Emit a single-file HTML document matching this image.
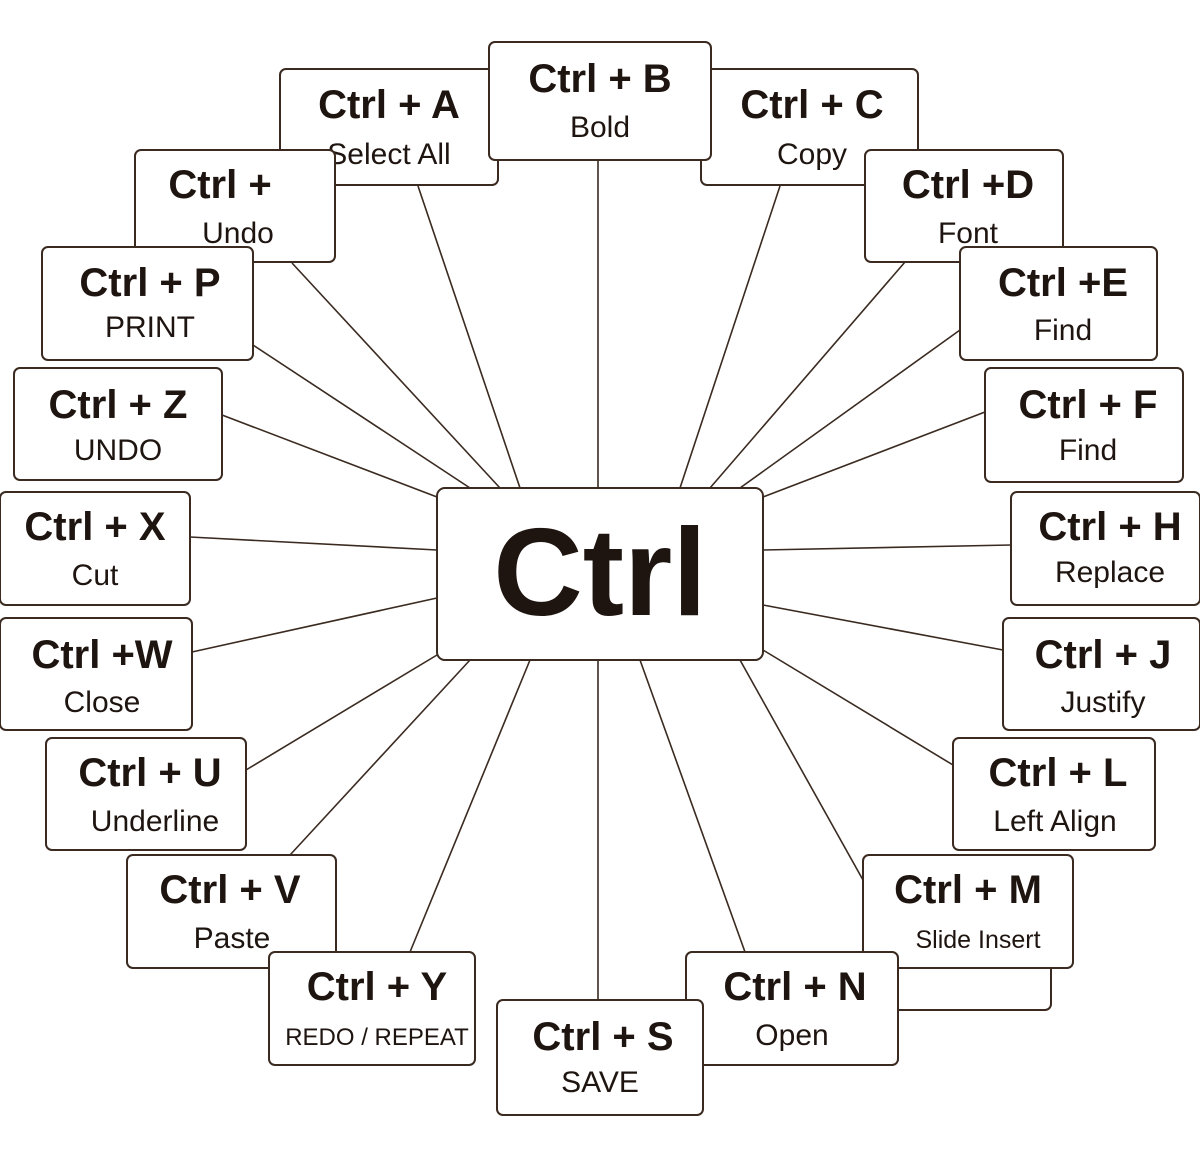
<!DOCTYPE html>
<html><head><meta charset="utf-8"><style>
html,body{margin:0;padding:0;background:#fff;}
svg{display:block}
text{font-family:"Liberation Sans",sans-serif;fill:#1e1410;text-anchor:middle}
.t{font-weight:bold;font-size:40px}
.s{font-size:30px}
rect{fill:#fff;stroke:#3a2a20;stroke-width:2}
line{stroke:#3a2a20;stroke-width:1.6}
</style></head><body>
<svg width="1200" height="1162" viewBox="0 0 1200 1162">
<g>
<line x1="598" y1="160" x2="598" y2="488"/>
<line x1="418" y1="186" x2="520" y2="488"/>
<line x1="780" y1="186" x2="680" y2="488"/>
<line x1="292" y1="263" x2="500" y2="488"/>
<line x1="905" y1="262" x2="710" y2="488"/>
<line x1="253" y1="345" x2="470" y2="488"/>
<line x1="960" y1="330" x2="740" y2="488"/>
<line x1="222" y1="415" x2="437" y2="497"/>
<line x1="985" y1="412" x2="763" y2="497"/>
<line x1="190" y1="537" x2="437" y2="550"/>
<line x1="1011" y1="545" x2="763" y2="550"/>
<line x1="192" y1="652" x2="437" y2="598"/>
<line x1="1003" y1="650" x2="763" y2="605"/>
<line x1="246" y1="770" x2="437" y2="655"/>
<line x1="953" y1="765" x2="763" y2="650"/>
<line x1="290" y1="855" x2="470" y2="660"/>
<line x1="863" y1="880" x2="740" y2="660"/>
<line x1="410" y1="952" x2="530" y2="660"/>
<line x1="745" y1="952" x2="640" y2="660"/>
<line x1="598" y1="1000" x2="598" y2="660"/>
</g>
<rect x="437" y="488" width="326" height="172" rx="8"/>
<text x="600" y="615" style="font-weight:bold;font-size:124px">Ctrl</text>

<rect x="280" y="69" width="218" height="116" rx="6"/>
<text class="t" x="389" y="118">Ctrl + A</text><text class="s" x="389" y="164">Select All</text>
<rect x="701" y="69" width="217" height="116" rx="6"/>
<text class="t" x="812" y="118">Ctrl + C</text><text class="s" x="812" y="164">Copy</text>
<rect x="489" y="42" width="222" height="118" rx="6"/>
<text class="t" x="600" y="92">Ctrl + B</text><text class="s" x="600" y="137">Bold</text>

<rect x="135" y="150" width="200" height="112" rx="6"/>
<text class="t" x="220" y="198">Ctrl +</text><text class="s" x="238" y="243">Undo</text>
<rect x="865" y="150" width="198" height="112" rx="6"/>
<text class="t" x="968" y="198">Ctrl +D</text><text class="s" x="968" y="243">Font</text>

<rect x="42" y="247" width="211" height="113" rx="6"/>
<text class="t" x="150" y="296">Ctrl + P</text><text class="s" x="150" y="337">PRINT</text>
<rect x="960" y="247" width="197" height="113" rx="6"/>
<text class="t" x="1063" y="296">Ctrl +E</text><text class="s" x="1063" y="340">Find</text>

<rect x="14" y="368" width="208" height="112" rx="6"/>
<text class="t" x="118" y="418">Ctrl + Z</text><text class="s" x="118" y="460">UNDO</text>
<rect x="985" y="368" width="198" height="114" rx="6"/>
<text class="t" x="1088" y="418">Ctrl + F</text><text class="s" x="1088" y="460">Find</text>

<rect x="0" y="492" width="190" height="113" rx="6"/>
<text class="t" x="95" y="540">Ctrl + X</text><text class="s" x="95" y="585">Cut</text>
<rect x="1011" y="492" width="189" height="113" rx="6"/>
<text class="t" x="1110" y="540">Ctrl + H</text><text class="s" x="1110" y="582">Replace</text>

<rect x="0" y="618" width="192" height="112" rx="6"/>
<text class="t" x="102" y="668">Ctrl +W</text><text class="s" x="102" y="712">Close</text>
<rect x="1003" y="618" width="197" height="112" rx="6"/>
<text class="t" x="1103" y="668">Ctrl + J</text><text class="s" x="1103" y="712">Justify</text>

<rect x="46" y="738" width="200" height="112" rx="6"/>
<text class="t" x="150" y="786">Ctrl + U</text><text class="s" x="155" y="831">Underline</text>
<rect x="953" y="738" width="202" height="112" rx="6"/>
<text class="t" x="1058" y="786">Ctrl + L</text><text class="s" x="1055" y="831">Left Align</text>

<rect x="127" y="855" width="209" height="113" rx="6"/>
<text class="t" x="230" y="903">Ctrl + V</text><text class="s" x="232" y="948">Paste</text>
<rect x="883" y="890" width="168" height="120" rx="6"/>
<rect x="863" y="855" width="210" height="113" rx="6"/>
<text class="t" x="968" y="903">Ctrl + M</text><text class="s" x="978" y="948" style="font-size:25px">Slide Insert</text>

<rect x="269" y="952" width="206" height="113" rx="6"/>
<text class="t" x="377" y="1000">Ctrl + Y</text><text class="s" x="377" y="1045" style="font-size:24px">REDO / REPEAT</text>
<rect x="686" y="952" width="212" height="113" rx="6"/>
<text class="t" x="795" y="1000">Ctrl + N</text><text class="s" x="792" y="1045">Open</text>

<rect x="497" y="1000" width="206" height="115" rx="6"/>
<text class="t" x="603" y="1050">Ctrl + S</text><text class="s" x="600" y="1092">SAVE</text>
</svg>
</body></html>
